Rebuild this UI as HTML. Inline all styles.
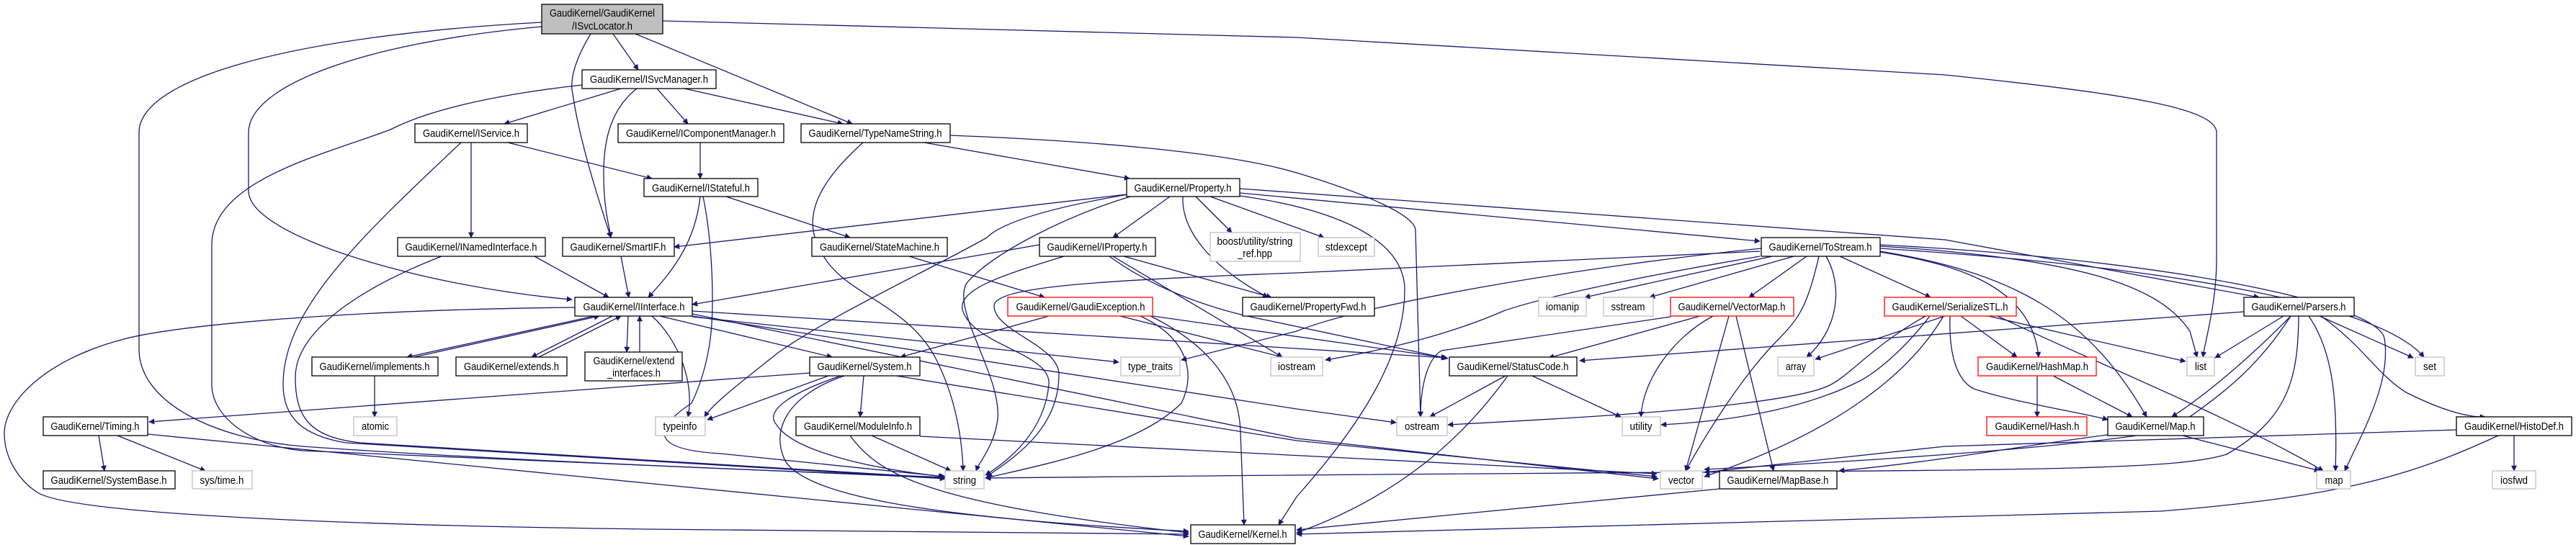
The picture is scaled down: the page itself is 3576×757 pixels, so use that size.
<!DOCTYPE html>
<html><head><meta charset="utf-8"><style>
html,body{margin:0;padding:0;background:#fff;}
svg{display:block;}
text{font-family:"Liberation Sans",sans-serif;font-size:15px;fill:#000;}
.e{fill:none;stroke:#191970;stroke-width:1.3;marker-end:url(#a);}
.n{fill:#fff;stroke:#000;stroke-width:1.3;}
.g{fill:#fff;stroke:#bfbfbf;stroke-width:1.3;}
.r{fill:#fff;stroke:#ff0000;stroke-width:1.3;}
</style></head><body>
<svg width="3576" height="757" viewBox="0 0 3576 757" xmlns="http://www.w3.org/2000/svg">
<defs><marker id="a" viewBox="0 0 10 10" refX="9" refY="5" markerWidth="9" markerHeight="8" orient="auto" markerUnits="userSpaceOnUse"><path d="M0,0 L10,5 L0,10 z" fill="#191970"/></marker></defs>
<g>
<path class="e" d="M851 47 L886 97"/>
<path class="e" d="M882 47 L1183 172"/>
<path class="e" d="M820 47 C800 80,790 110,795 130 C805 200,835 290,848 330"/>
<path class="e" d="M752 37 C500 60,345 120,345 184 L345 265 C345 330,600 400,794 416"/>
<path class="e" d="M752 31 C400 50,193 110,193 184 L193 485 C193 560,300 610,420 620 C700 640,1100 655,1312 663"/>
<path class="e" d="M920 29 L1800 52 L2700 104 C2950 130,3077 150,3077 184 L3077 360 C3077 420,3062 470,3058 496"/>
<path class="e" d="M862 123 L700 172"/>
<path class="e" d="M912 123 L955 172"/>
<path class="e" d="M950 123 L1170 172"/>
<path class="e" d="M884 123 C850 150,838 190,838 240 C838 290,845 310,848 330"/>
<path class="e" d="M808 118 C700 130,600 150,542 180 C450 215,294 250,294 340 L294 534 C294 580,350 620,420 626 L1312 664"/>
<path class="e" d="M705 198 L905 248"/>
<path class="e" d="M654 198 L654 330"/>
<path class="e" d="M640 198 C500 330,393 430,393 534 C393 580,420 605,480 615 L1312 665"/>
<path class="e" d="M972 198 L972 248"/>
<path class="e" d="M1283 198 L1568 248"/>
<path class="e" d="M1198 198 C1140 250,1110 300,1140 350 C1170 410,1260 420,1300 500 C1330 560,1336 620,1337 654"/>
<path class="e" d="M1319 188 C1500 195,1700 210,1800 240 C1900 270,1965 300,1965 320 L1972 579"/>
<path class="e" d="M972 273 C965 340,930 380,900 413"/>
<path class="e" d="M1008 273 L1180 330"/>
<path class="e" d="M976 273 C990 340,990 420,988 450 C985 500,970 540,960 560 C900 600,910 625,1000 630 L1312 662"/>
<path class="e" d="M1564 270 L936 343"/>
<path class="e" d="M1624 273 L1545 330"/>
<path class="e" d="M1660 273 L1710 323"/>
<path class="e" d="M1680 273 L1838 330"/>
<path class="e" d="M1721 268 L2443 335"/>
<path class="e" d="M1721 262 L2700 333 L3136 413"/>
<path class="e" d="M1642 273 C1640 320,1680 370,1760 413"/>
<path class="e" d="M1566 270 C1450 290,1390 310,1370 330 C1300 370,1150 440,1080 490 C1030 530,990 560,978 579"/>
<path class="e" d="M1572 272 C1480 300,1380 350,1342 393 C1320 430,1390 520,1385 582 C1380 620,1360 640,1355 654"/>
<path class="e" d="M1721 272 C1850 290,1950 330,1950 403 C1950 500,1880 600,1800 690 L1775 729"/>
<path class="e" d="M1443 340 L961 423"/>
<path class="e" d="M1560 356 L1765 413"/>
<path class="e" d="M1477 356 C1400 380,1330 400,1336 430 C1350 480,1460 490,1456 534 C1450 600,1400 640,1368 660"/>
<path class="e" d="M1540 356 C1600 400,1680 430,1760 445 L2010 498"/>
<path class="e" d="M1545 356 L1780 496"/>
<path class="e" d="M1262 356 L1450 413"/>
<path class="e" d="M742 356 L845 413"/>
<path class="e" d="M613 356 C500 400,410 460,410 524 C410 580,430 607,500 615 L1312 664"/>
<path class="e" d="M862 356 L873 413"/>
<path class="e" d="M825 439 L565 496"/>
<path class="e" d="M575 496 L832 439"/>
<path class="e" d="M850 439 L738 496"/>
<path class="e" d="M748 496 L862 439"/>
<path class="e" d="M872 439 L870 489"/>
<path class="e" d="M888 489 L888 439"/>
<path class="e" d="M916 439 L1155 496"/>
<path class="e" d="M961 440 L1553 503"/>
<path class="e" d="M905 439 C940 470,965 530,955 579"/>
<path class="e" d="M798 427 C500 430,250 450,172 471 C60 500,6 560,6 602 C6 640,30 670,52 684 C100 715,500 730,900 735 L1650 742"/>
<path class="e" d="M961 432 L2008 497"/>
<path class="e" d="M961 439 L1800 568 L1938 587"/>
<path class="e" d="M961 436 L1800 609 L2302 665"/>
<path class="e" d="M520 522 L520 579"/>
<path class="e" d="M1124 518 L207 586"/>
<path class="e" d="M1150 522 L982 583"/>
<path class="e" d="M1199 522 L1194 579"/>
<path class="e" d="M1167 522 C1100 545,1060 570,1078 590 C1100 625,1200 650,1310 662"/>
<path class="e" d="M1172 522 C1090 550,1070 600,1090 640 C1120 690,1300 720,1650 738"/>
<path class="e" d="M1244 522 L1800 612 L2300 662"/>
<path class="e" d="M1210 605 L1320 654"/>
<path class="e" d="M1180 605 C1220 660,1290 700,1650 740"/>
<path class="e" d="M1277 606 L2300 658"/>
<path class="e" d="M137 605 L145 654"/>
<path class="e" d="M163 605 L285 654"/>
<path class="e" d="M205 603 L1650 745"/>
<path class="e" d="M1456 439 L1250 496"/>
<path class="e" d="M1555 439 L1780 496"/>
<path class="e" d="M1583 439 C1650 470,1660 520,1640 560 C1580 620,1450 645,1368 664"/>
<path class="e" d="M1597 439 C1660 470,1720 520,1722 600 L1727 729"/>
<path class="e" d="M1600 439 L2008 497"/>
<path class="e" d="M2460 356 L2200 413"/>
<path class="e" d="M2490 356 L2290 413"/>
<path class="e" d="M2508 356 L2428 413"/>
<path class="e" d="M2554 356 L2680 413"/>
<path class="e" d="M2535 356 C2560 400,2550 460,2508 496"/>
<path class="e" d="M2525 356 C2510 420,2500 440,2470 470 C2420 520,2370 600,2340 654"/>
<path class="e" d="M2445 345 C2200 370,1900 420,1800 460 L1640 500"/>
<path class="e" d="M2443 349 L1800 379 C1500 390,1380 400,1380 425 C1380 460,1470 480,1470 520 C1470 600,1400 640,1370 662"/>
<path class="e" d="M2443 356 C2300 380,2150 410,2087 432 C2000 470,1900 490,1840 500"/>
<path class="e" d="M2319 440 L2001 487 C1980 500,1972 540,1972 579"/>
<path class="e" d="M2360 439 L2150 497"/>
<path class="e" d="M2378 439 C2320 470,2280 530,2278 579"/>
<path class="e" d="M2400 439 L2340 654"/>
<path class="e" d="M2410 439 L2462 654"/>
<path class="e" d="M2610 342 C2900 360,3000 400,3040 460 L3050 496"/>
<path class="e" d="M2610 345 C3000 370,3300 420,3365 496"/>
<path class="e" d="M2610 340 C3000 360,3300 420,3310 470 C3320 530,3280 600,3255 654"/>
<path class="e" d="M2610 349 C2800 380,2900 440,2980 579"/>
<path class="e" d="M2610 350 C2700 365,2820 390,2830 496"/>
<path class="e" d="M3115 433 L2193 501"/>
<path class="e" d="M3468 605 C3350 660,3250 690,3000 710 L1800 742"/>
<path class="e" d="M2387 679 L1800 736"/>
<path class="e" d="M2926 604 C2800 620,2700 640,2553 654"/>
<path class="e" d="M3030 605 L3220 654"/>
<path class="e" d="M3410 597 L2700 620 L2366 656"/>
<path class="e" d="M2090 522 L1985 579"/>
<path class="e" d="M2127 522 L2250 579"/>
<path class="e" d="M2093 522 C2030 610,1940 690,1800 740"/>
<path class="e" d="M2700 439 L2520 499"/>
<path class="e" d="M2722 439 L2800 496"/>
<path class="e" d="M2760 439 L3034 502"/>
<path class="e" d="M2773 439 C2900 500,3100 580,3225 654"/>
<path class="e" d="M2707 439 C2705 500,2720 530,2740 540 C2800 560,2900 575,2926 583"/>
<path class="e" d="M2673 439 C2600 480,2570 520,2540 535 C2480 565,2200 580,2010 590"/>
<path class="e" d="M2679 439 C2640 490,2600 520,2580 530 C2500 570,2400 585,2306 590"/>
<path class="e" d="M2698 439 C2650 520,2550 600,2366 662"/>
<path class="e" d="M2828 522 L2828 579"/>
<path class="e" d="M2850 522 L2960 579"/>
<path class="e" d="M3170 439 L3075 497"/>
<path class="e" d="M3180 439 C3120 500,3060 550,3015 579"/>
<path class="e" d="M3220 439 L3350 497"/>
<path class="e" d="M3205 439 C3240 490,3245 560,3242 654"/>
<path class="e" d="M3222 439 C3280 480,3300 520,3340 545 C3380 565,3420 580,3450 579"/>
<path class="e" d="M3180 439 C3140 500,3100 540,3013 597 C2900 620,2600 640,2366 652"/>
<path class="e" d="M3191 439 C3190 520,3180 580,3091 631 C3000 660,2700 650,1368 664"/>
<path class="e" d="M3490 605 L3490 654"/>
</g>
<g>
<rect x="752" y="6" width="168" height="41" fill="#bfbfbf" stroke="#000" stroke-width="1.3"/>
<text x="836" y="23" text-anchor="middle" textLength="146" lengthAdjust="spacingAndGlyphs">GaudiKernel/GaudiKernel</text>
<text x="836" y="41" text-anchor="middle" textLength="84" lengthAdjust="spacingAndGlyphs">/ISvcLocator.h</text>

<rect class="n" x="808" y="97" width="186" height="26"/><text x="901" y="115" text-anchor="middle" textLength="164" lengthAdjust="spacingAndGlyphs">GaudiKernel/ISvcManager.h</text>
<rect class="n" x="576" y="172" width="156" height="26"/><text x="654" y="190" text-anchor="middle" textLength="134" lengthAdjust="spacingAndGlyphs">GaudiKernel/IService.h</text>
<rect class="n" x="858" y="172" width="230" height="26"/><text x="973" y="190" text-anchor="middle" textLength="208" lengthAdjust="spacingAndGlyphs">GaudiKernel/IComponentManager.h</text>
<rect class="n" x="1112" y="172" width="207" height="26"/><text x="1215" y="190" text-anchor="middle" textLength="185" lengthAdjust="spacingAndGlyphs">GaudiKernel/TypeNameString.h</text>
<rect class="n" x="894" y="248" width="158" height="25"/><text x="973" y="266" text-anchor="middle" textLength="136" lengthAdjust="spacingAndGlyphs">GaudiKernel/IStateful.h</text>
<rect class="n" x="1564" y="248" width="157" height="25"/><text x="1642" y="266" text-anchor="middle" textLength="135" lengthAdjust="spacingAndGlyphs">GaudiKernel/Property.h</text>
<rect class="n" x="552" y="330" width="205" height="26"/><text x="654" y="348" text-anchor="middle" textLength="183" lengthAdjust="spacingAndGlyphs">GaudiKernel/INamedInterface.h</text>
<rect class="n" x="781" y="330" width="155" height="26"/><text x="858" y="348" text-anchor="middle" textLength="133" lengthAdjust="spacingAndGlyphs">GaudiKernel/SmartIF.h</text>
<rect class="n" x="1127" y="330" width="188" height="26"/><text x="1221" y="348" text-anchor="middle" textLength="166" lengthAdjust="spacingAndGlyphs">GaudiKernel/StateMachine.h</text>
<rect class="n" x="1443" y="330" width="161" height="26"/><text x="1523" y="348" text-anchor="middle" textLength="139" lengthAdjust="spacingAndGlyphs">GaudiKernel/IProperty.h</text>
<rect class="g" x="1680" y="323" width="125" height="40"/>
<text x="1742" y="340" text-anchor="middle" textLength="105" lengthAdjust="spacingAndGlyphs">boost/utility/string</text>
<text x="1742" y="357" text-anchor="middle" textLength="48" lengthAdjust="spacingAndGlyphs">_ref.hpp</text>
<rect class="g" x="1830" y="330" width="78" height="26"/><text x="1869" y="348" text-anchor="middle" textLength="58" lengthAdjust="spacingAndGlyphs">stdexcept</text>
<rect class="n" x="2445" y="330" width="165" height="26"/><text x="2527" y="348" text-anchor="middle" textLength="143" lengthAdjust="spacingAndGlyphs">GaudiKernel/ToStream.h</text>

<rect class="n" x="3115" y="413" width="153" height="26"/><text x="3191" y="431" text-anchor="middle" textLength="131" lengthAdjust="spacingAndGlyphs">GaudiKernel/Parsers.h</text>
<rect class="n" x="798" y="413" width="163" height="26"/><text x="880" y="431" text-anchor="middle" textLength="141" lengthAdjust="spacingAndGlyphs">GaudiKernel/IInterface.h</text>
<rect class="r" x="1399" y="413" width="201" height="26"/><text x="1500" y="431" text-anchor="middle" textLength="179" lengthAdjust="spacingAndGlyphs">GaudiKernel/GaudiException.h</text>
<rect class="n" x="1725" y="413" width="183" height="26"/><text x="1816" y="431" text-anchor="middle" textLength="161" lengthAdjust="spacingAndGlyphs">GaudiKernel/PropertyFwd.h</text>
<rect class="g" x="2136" y="413" width="66" height="26"/><text x="2169" y="431" text-anchor="middle" textLength="46" lengthAdjust="spacingAndGlyphs">iomanip</text>
<rect class="g" x="2226" y="413" width="69" height="26"/><text x="2260" y="431" text-anchor="middle" textLength="47" lengthAdjust="spacingAndGlyphs">sstream</text>
<rect class="r" x="2319" y="413" width="171" height="26"/><text x="2404" y="431" text-anchor="middle" textLength="149" lengthAdjust="spacingAndGlyphs">GaudiKernel/VectorMap.h</text>
<rect class="r" x="2616" y="413" width="183" height="26"/><text x="2707" y="431" text-anchor="middle" textLength="161" lengthAdjust="spacingAndGlyphs">GaudiKernel/SerializeSTL.h</text>

<rect class="n" x="433" y="496" width="175" height="26"/><text x="520" y="514" text-anchor="middle" textLength="153" lengthAdjust="spacingAndGlyphs">GaudiKernel/implements.h</text>
<rect class="n" x="633" y="496" width="154" height="26"/><text x="710" y="514" text-anchor="middle" textLength="132" lengthAdjust="spacingAndGlyphs">GaudiKernel/extends.h</text>
<rect class="n" x="812" y="489" width="135" height="40"/>
<text x="880" y="506" text-anchor="middle" textLength="113" lengthAdjust="spacingAndGlyphs">GaudiKernel/extend</text>
<text x="880" y="523" text-anchor="middle" textLength="74" lengthAdjust="spacingAndGlyphs">_interfaces.h</text>
<rect class="n" x="1124" y="496" width="153" height="26"/><text x="1200" y="514" text-anchor="middle" textLength="131" lengthAdjust="spacingAndGlyphs">GaudiKernel/System.h</text>
<rect class="g" x="1556" y="496" width="82" height="26"/><text x="1597" y="514" text-anchor="middle" textLength="62" lengthAdjust="spacingAndGlyphs">type_traits</text>
<rect class="g" x="1764" y="496" width="72" height="26"/><text x="1800" y="514" text-anchor="middle" textLength="52" lengthAdjust="spacingAndGlyphs">iostream</text>
<rect class="n" x="2012" y="496" width="177" height="26"/><text x="2100" y="514" text-anchor="middle" textLength="155" lengthAdjust="spacingAndGlyphs">GaudiKernel/StatusCode.h</text>
<rect class="g" x="2468" y="496" width="50" height="26"/><text x="2493" y="514" text-anchor="middle" textLength="28" lengthAdjust="spacingAndGlyphs">array</text>
<rect class="r" x="2746" y="496" width="164" height="26"/><text x="2828" y="514" text-anchor="middle" textLength="142" lengthAdjust="spacingAndGlyphs">GaudiKernel/HashMap.h</text>
<rect class="g" x="3036" y="496" width="38" height="26"/><text x="3055" y="514" text-anchor="middle" textLength="16" lengthAdjust="spacingAndGlyphs">list</text>
<rect class="g" x="3353" y="496" width="40" height="26"/><text x="3373" y="514" text-anchor="middle" textLength="18" lengthAdjust="spacingAndGlyphs">set</text>

<rect class="n" x="60" y="579" width="145" height="26"/><text x="132" y="597" text-anchor="middle" textLength="123" lengthAdjust="spacingAndGlyphs">GaudiKernel/Timing.h</text>
<rect class="g" x="491" y="579" width="60" height="26"/><text x="521" y="597" text-anchor="middle" textLength="38" lengthAdjust="spacingAndGlyphs">atomic</text>
<rect class="g" x="910" y="579" width="69" height="26"/><text x="944" y="597" text-anchor="middle" textLength="47" lengthAdjust="spacingAndGlyphs">typeinfo</text>
<rect class="n" x="1105" y="579" width="172" height="26"/><text x="1191" y="597" text-anchor="middle" textLength="150" lengthAdjust="spacingAndGlyphs">GaudiKernel/ModuleInfo.h</text>
<rect class="g" x="1939" y="579" width="70" height="26"/><text x="1974" y="597" text-anchor="middle" textLength="48" lengthAdjust="spacingAndGlyphs">ostream</text>
<rect class="g" x="2252" y="579" width="53" height="26"/><text x="2278" y="597" text-anchor="middle" textLength="31" lengthAdjust="spacingAndGlyphs">utility</text>
<rect class="r" x="2758" y="579" width="139" height="26"/><text x="2828" y="597" text-anchor="middle" textLength="117" lengthAdjust="spacingAndGlyphs">GaudiKernel/Hash.h</text>
<rect class="n" x="2926" y="579" width="133" height="26"/><text x="2992" y="597" text-anchor="middle" textLength="111" lengthAdjust="spacingAndGlyphs">GaudiKernel/Map.h</text>
<rect class="n" x="3410" y="579" width="160" height="26"/><text x="3490" y="597" text-anchor="middle" textLength="138" lengthAdjust="spacingAndGlyphs">GaudiKernel/HistoDef.h</text>

<rect class="n" x="60" y="654" width="183" height="25"/><text x="151" y="672" text-anchor="middle" textLength="161" lengthAdjust="spacingAndGlyphs">GaudiKernel/SystemBase.h</text>
<rect class="g" x="267" y="654" width="83" height="25"/><text x="308" y="672" text-anchor="middle" textLength="61" lengthAdjust="spacingAndGlyphs">sys/time.h</text>
<rect class="g" x="1312" y="654" width="54" height="25"/><text x="1339" y="672" text-anchor="middle" textLength="32" lengthAdjust="spacingAndGlyphs">string</text>
<rect class="g" x="2305" y="654" width="58" height="25"/><text x="2334" y="672" text-anchor="middle" textLength="36" lengthAdjust="spacingAndGlyphs">vector</text>
<rect class="n" x="2387" y="654" width="163" height="25"/><text x="2468" y="672" text-anchor="middle" textLength="141" lengthAdjust="spacingAndGlyphs">GaudiKernel/MapBase.h</text>
<rect class="g" x="3216" y="654" width="47" height="25"/><text x="3240" y="672" text-anchor="middle" textLength="25" lengthAdjust="spacingAndGlyphs">map</text>
<rect class="g" x="3460" y="654" width="60" height="25"/><text x="3490" y="672" text-anchor="middle" textLength="38" lengthAdjust="spacingAndGlyphs">iosfwd</text>

<rect class="n" x="1653" y="729" width="145" height="26"/><text x="1725" y="747" text-anchor="middle" textLength="123" lengthAdjust="spacingAndGlyphs">GaudiKernel/Kernel.h</text>
</g>
</svg>
</body></html>
